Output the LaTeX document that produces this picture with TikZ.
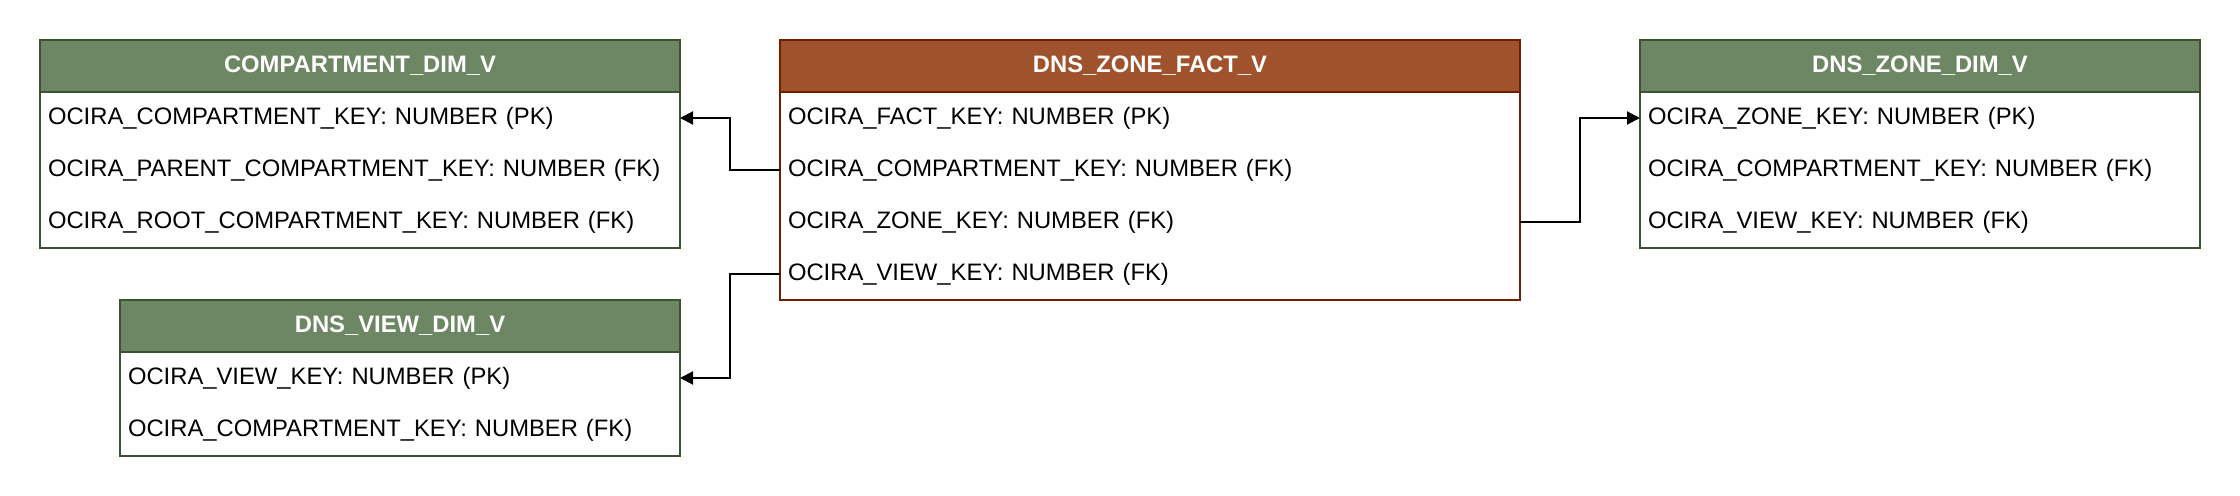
\documentclass[tikz,border=0pt]{standalone}
\usepackage{fontspec}
\setmainfont{Liberation Sans}
\usepackage{tikz}
\usetikzlibrary{positioning,arrows.meta}
\definecolor{dimfill}{HTML}{6D8764}
\definecolor{dimline}{HTML}{3A5431}
\definecolor{factfill}{HTML}{A0522D}
\definecolor{factline}{HTML}{6D1F00}

\begin{document}
\begin{tikzpicture}[x=0.5pt,y=-0.5pt,
  font=\fontsize{11.9}{14}\selectfont,
  head/.style={draw=#1,line width=1pt,text=white,font=\fontsize{11.9}{14}\selectfont\bfseries,
    minimum height=26pt,inner sep=0pt,outer sep=0pt,anchor=north west},
  row/.style={minimum height=26pt,inner xsep=4pt,inner ysep=0pt,outer sep=0pt,
    text width=#1,align=left},
  frame/.style={draw=#1,line width=1pt},
  link/.style={line width=1pt,-{Triangle[length=6.5pt,width=6.5pt]}}]
\useasboundingbox (0,0) rectangle (2240,496);

\node[head=dimline,fill=dimfill,minimum width=320pt] (c) at (40,40) {COMPARTMENT\_DIM\_V};
\node[row=312pt,below=0pt of c] (c1) {OCIRA\_COMPARTMENT\_KEY: NUMBER (PK)};
\node[row=312pt,below=0pt of c1] (c2) {OCIRA\_PARENT\_COMPARTMENT\_KEY: NUMBER (FK)};
\node[row=312pt,below=0pt of c2] (c3) {OCIRA\_ROOT\_COMPARTMENT\_KEY: NUMBER (FK)};
\draw[frame=dimline] (c.north west) rectangle (c3.south east);

\node[head=dimline,fill=dimfill,minimum width=280pt] (v) at (120,300) {DNS\_VIEW\_DIM\_V};
\node[row=272pt,below=0pt of v] (v1) {OCIRA\_VIEW\_KEY: NUMBER (PK)};
\node[row=272pt,below=0pt of v1] (v2) {OCIRA\_COMPARTMENT\_KEY: NUMBER (FK)};
\draw[frame=dimline] (v.north west) rectangle (v2.south east);

\node[head=factline,fill=factfill,minimum width=370pt] (f) at (780,40) {DNS\_ZONE\_FACT\_V};
\node[row=362pt,below=0pt of f] (f1) {OCIRA\_FACT\_KEY: NUMBER (PK)};
\node[row=362pt,below=0pt of f1] (f2) {OCIRA\_COMPARTMENT\_KEY: NUMBER (FK)};
\node[row=362pt,below=0pt of f2] (f3) {OCIRA\_ZONE\_KEY: NUMBER (FK)};
\node[row=362pt,below=0pt of f3] (f4) {OCIRA\_VIEW\_KEY: NUMBER (FK)};
\draw[frame=factline] (f.north west) rectangle (f4.south east);

\node[head=dimline,fill=dimfill,minimum width=280pt] (z) at (1640,40) {DNS\_ZONE\_DIM\_V};
\node[row=272pt,below=0pt of z] (z1) {OCIRA\_ZONE\_KEY: NUMBER (PK)};
\node[row=272pt,below=0pt of z1] (z2) {OCIRA\_COMPARTMENT\_KEY: NUMBER (FK)};
\node[row=272pt,below=0pt of z2] (z3) {OCIRA\_VIEW\_KEY: NUMBER (FK)};
\draw[frame=dimline] (z.north west) rectangle (z3.south east);

\draw[link] (f2.west) -- ++(-50,0) |- (c1.east);
\draw[link] (f4.west) -- ++(-50,0) |- (v1.east);
\draw[link] (f3.east) -- ++(60,0) |- (z1.west);
\end{tikzpicture}
\end{document}
